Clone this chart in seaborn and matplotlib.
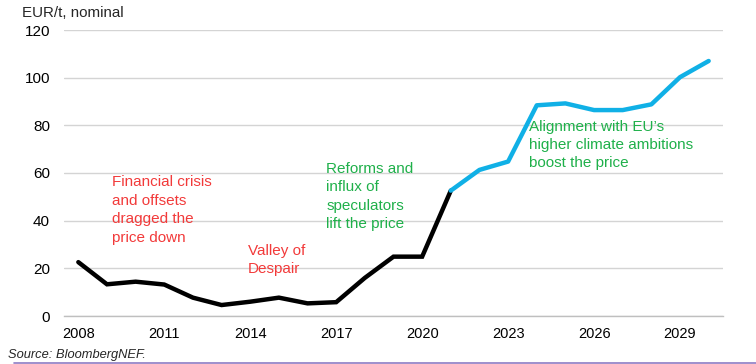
import matplotlib
matplotlib.use("Agg")
import matplotlib.pyplot as plt
import seaborn as sns
import pandas as pd
from matplotlib.ticker import FixedLocator, NullFormatter

# historical prices
hist_years = [2008, 2009, 2010, 2011, 2012, 2013, 2014, 2015, 2016, 2017,
              2018, 2019, 2020, 2021]
hist_price = [22.6, 13.3, 14.4, 13.2, 7.7, 4.6, 6.0, 7.7, 5.3, 5.8,
              16.0, 24.9, 24.9, 52.6]

# forecast
fc_years = [2021, 2022, 2023, 2024, 2025, 2026, 2027, 2028, 2029, 2030]
fc_price = [52.6, 61.3, 64.8, 88.4, 89.2, 86.4, 86.4, 88.8, 100.2, 107.0]

tick_years = [2008, 2011, 2014, 2017, 2020, 2023, 2026, 2029]
y_ticks = [0, 20, 40, 60, 80, 100, 120]

RED = "#f23a3a"
GREEN = "#1fb04a"
BLUE = "#10b0e6"

sns.set_theme(style="white")
plt.rcParams["font.family"] = ["Liberation Sans", "DejaVu Sans"]

fig = plt.figure(figsize=(7.56, 3.64), dpi=100)
ax = fig.add_axes([64 / 756, 1 - 316 / 364, (723 - 64) / 756, (316 - 30) / 364])

df_hist = pd.DataFrame({"year": hist_years, "price": hist_price})
df_fc = pd.DataFrame({"year": fc_years, "price": fc_price})
sns.lineplot(data=df_hist, x="year", y="price", color="black", linewidth=3.2, ax=ax,
             solid_joinstyle="miter", zorder=3)
sns.lineplot(data=df_fc, x="year", y="price", color=BLUE, linewidth=3.2, ax=ax,
             solid_capstyle="round", zorder=3)

ax.set_xlim(2007.5, 2030.5)
ax.set_ylim(0, 120)
ax.set_yticks(y_ticks)
ax.set_xticks(tick_years)
ax.xaxis.set_minor_locator(FixedLocator([2007.5 + k for k in range(24)]))
ax.xaxis.set_minor_formatter(NullFormatter())
ax.tick_params(axis="x", which="major", length=0, pad=8, labelsize=10.5, colors="black")
ax.tick_params(axis="x", which="minor", length=5, width=0.8, color="#bfbfbf", direction="out")
ax.tick_params(axis="y", length=0, pad=10, labelsize=11, colors="black")
ax.set_xlabel("")
ax.set_ylabel("")

ax.grid(axis="y", color="#d4d4d4", linewidth=1)
ax.set_axisbelow(True)
for s in ["top", "right", "left"]:
    ax.spines[s].set_visible(False)
ax.spines["bottom"].set_color("#bfbfbf")
ax.spines["bottom"].set_linewidth(1)

fig.text(22 / 756, 1 - 13 / 364, "EUR/t, nominal", fontsize=10.9, va="center", ha="left")

txt = dict(fontsize=11, va="top", ha="left", linespacing=1.4)
ax.text(2009.18, 59.0, "Financial crisis\nand offsets\ndragged the\nprice down", color=RED, **txt)
ax.text(2013.92, 30.2, "Valley of\nDespair", color=RED, **txt)
ax.text(2016.65, 64.7, "Reforms and\ninflux of\nspeculators\nlift the price", color=GREEN, **txt)
ax.text(2023.73, 82.4, "Alignment with EU\u2019s\nhigher climate ambitions\nboost the price", color=GREEN, **txt)

fig.text(8 / 756, 1 - 355 / 364, "Source: BloombergNEF.", fontsize=9.3, style="italic",
         va="center", ha="left")
fig.add_artist(plt.Line2D([14 / 756, 1], [1 - 362.5 / 364] * 2, color="#8e7cc3",
                          linewidth=1.2, transform=fig.transFigure))

fig.savefig("out.png", dpi=100)
